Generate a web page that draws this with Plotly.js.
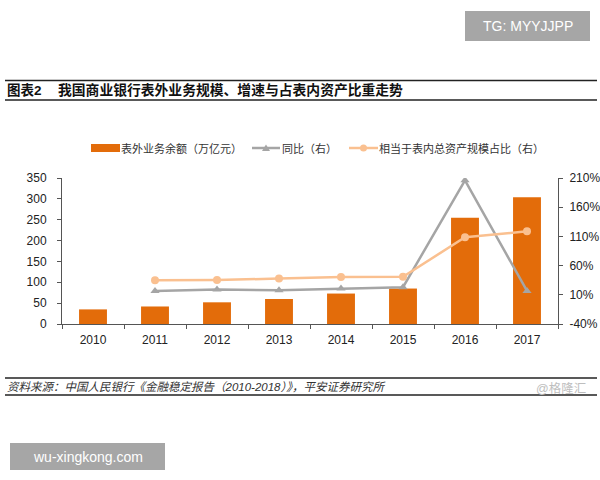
<!DOCTYPE html>
<html>
<head>
<meta charset="utf-8">
<script src="https://cdn.plot.ly/plotly-3.0.1.min.js"></script>
<style>html,body{margin:0;padding:0;background:#fff;}#chart{width:600px;height:480px;}</style>
</head>
<body>
<div id="chart"></div>
<script>
// ---- data ----
const years = ['2010','2011','2012','2013','2014','2015','2016','2017'];
const offBalance = [35, 42, 52, 60, 73, 85, 255, 304];          // 表外业务余额（万亿元）
const yoy = [null, 16.6, 19, 17.8, 21, 23, 206, 16.6];          // 同比（右）, %
const ratio = [null, 35, 35.4, 37.7, 40.5, 41, 108.5, 118.7];   // 相当于表内总资产规模占比（右）, %
const leftTicks = [0, 50, 100, 150, 200, 250, 300, 350];
const rightTicks = [-40, 10, 60, 110, 160, 210];
const rightTickText = ['-40%', '10%', '60%', '110%', '160%', '210%'];

const W = 600, H = 480;
const mL = 62, mR = 42, mT = 178, mB = 156;
const pw = W - mL - mR, ph = H - mT - mB;
const px = x => (x - mL) / pw;
const py = y => (H - mB - y) / ph;

const cjk = '"Liberation Sans", Arial, "Noto Sans CJK SC", sans-serif';

const traces = [
  {
    type: 'bar', x: years, y: offBalance, name: '表外业务余额（万亿元）',
    marker: {color: '#E36C0A'}, width: 0.45, showlegend: false
  },
  {
    type: 'scatter', mode: 'lines+markers', x: years, y: yoy, yaxis: 'y2',
    name: '同比（右）', line: {color: '#A5A5A5', width: 2.5},
    marker: {symbol: 'triangle-up', size: 8, color: '#A5A5A5'}, showlegend: false
  },
  {
    type: 'scatter', mode: 'lines+markers', x: years, y: ratio, yaxis: 'y2',
    name: '相当于表内总资产规模占比（右）', line: {color: '#FAC090', width: 2.5},
    marker: {symbol: 'circle', size: 8, color: '#FAC090'}, showlegend: false
  }
];

const shapes = [
  // header lines
  {type:'line', xref:'paper', yref:'paper', x0:px(5), x1:px(597), y0:py(80.5), y1:py(80.5), line:{color:'#222', width:1.5}},
  {type:'line', xref:'paper', yref:'paper', x0:px(5), x1:px(597), y0:py(100), y1:py(100), line:{color:'#222', width:1.5}},
  // source lines
  {type:'line', xref:'paper', yref:'paper', x0:px(5), x1:px(597), y0:py(378), y1:py(378), line:{color:'#222', width:1.5}},
  {type:'line', xref:'paper', yref:'paper', x0:px(5), x1:px(597), y0:py(395), y1:py(395), line:{color:'#222', width:1.5}},
  // legend symbols
  {type:'rect', xref:'paper', yref:'paper', x0:px(91), x1:px(120), y0:py(152), y1:py(144), fillcolor:'#E36C0A', line:{width:0}},
  {type:'line', xref:'paper', yref:'paper', x0:px(252), x1:px(280), y0:py(148), y1:py(148), line:{color:'#A5A5A5', width:2.5}},
  {type:'path', xref:'paper', yref:'paper',
    path:`M ${px(262)} ${py(151)} L ${px(270)} ${py(151)} L ${px(266)} ${py(144.5)} Z`, fillcolor:'#A5A5A5', line:{width:0}},
  {type:'line', xref:'paper', yref:'paper', x0:px(349), x1:px(378), y0:py(148), y1:py(148), line:{color:'#FAC090', width:2.5}},
  {type:'circle', xref:'paper', yref:'paper', x0:px(360), x1:px(367), y0:py(151.5), y1:py(144.5), fillcolor:'#FAC090', line:{width:0}},
  // watermark boxes
  {type:'rect', xref:'paper', yref:'paper', x0:px(465), x1:px(590), y0:py(41), y1:py(11), fillcolor:'#A6A6A6', line:{width:0}},
  {type:'rect', xref:'paper', yref:'paper', x0:px(10), x1:px(165), y0:py(470), y1:py(443), fillcolor:'#A6A6A6', line:{width:0}}
];

const ann = (text, x, y, opts) => Object.assign({
  text, xref:'paper', yref:'paper', x:px(x), y:py(y), xanchor:'left', yanchor:'middle',
  showarrow:false, font:{family:cjk, size:11, color:'#222'}
}, opts || {});

const annotations = [
  ann('<b>图表2</b>', 5, 90.5, {font:{family:cjk, size:13.5, color:'#111'}}),
  ann('<b>我国商业银行表外业务规模、增速与占表内资产比重走势</b>', 56, 90.5, {font:{family:cjk, size:13.8, color:'#111'}}),
  ann('表外业务余额（万亿元）', 119, 148, {font:{family:cjk, size:11, color:'#333'}}),
  ann('同比（右）', 280, 148, {font:{family:cjk, size:11, color:'#333'}}),
  ann('相当于表内总资产规模占比（右）', 377, 148, {font:{family:cjk, size:11, color:'#333'}}),
  ann('<i>资料来源：中国人民银行《金融稳定报告（2010-2018）》，平安证券研究所</i>', 5, 387, {font:{family:cjk, size:11.5, color:'#333'}}),
  ann('@格隆汇', 588, 388, {xanchor:'right', font:{family:cjk, size:12.5, color:'#BEBEBE'}}),
  ann('TG: MYYJJPP', 527.5, 26, {xanchor:'center', font:{family:cjk, size:14, color:'#fff'}}),
  ann('wu-xingkong.com', 87.5, 456.5, {xanchor:'center', font:{family:cjk, size:14, color:'#fff'}})
];

const layout = {
  width: W, height: H,
  margin: {l: mL, r: mR, t: mT, b: mB, pad: 0},
  paper_bgcolor: '#fff', plot_bgcolor: '#fff',
  showlegend: false,
  font: {family: cjk, size: 11, color: '#333'},
  xaxis: {
    type: 'category', range: [-0.5, 7.5], showgrid: false, zeroline: false,
    showline: true, linecolor: '#555', linewidth: 1,
    ticks: 'outside', tickson: 'boundaries', ticklen: 4, tickcolor: '#555',
    ticklabelstandoff: 5,
    tickfont: {family: cjk, size: 12, color: '#222'}
  },
  yaxis: {
    range: [0, 350], tickvals: leftTicks, showgrid: false, zeroline: false,
    showline: true, linecolor: '#555', linewidth: 1,
    ticks: 'outside', ticklen: 4, tickcolor: '#555',
    ticklabelstandoff: 8,
    tickfont: {family: cjk, size: 12, color: '#222'}
  },
  yaxis2: {
    overlaying: 'y', side: 'right', range: [-40, 210],
    tickvals: rightTicks, ticktext: rightTickText, showgrid: false, zeroline: false,
    showline: true, linecolor: '#555', linewidth: 1,
    ticks: 'outside', ticklen: 4, tickcolor: '#555',
    ticklabelstandoff: 4,
    tickfont: {family: cjk, size: 12, color: '#222'}
  },
  shapes, annotations
};

Plotly.newPlot('chart', traces, layout, {displayModeBar: false, staticPlot: true});
</script>
</body>
</html>
